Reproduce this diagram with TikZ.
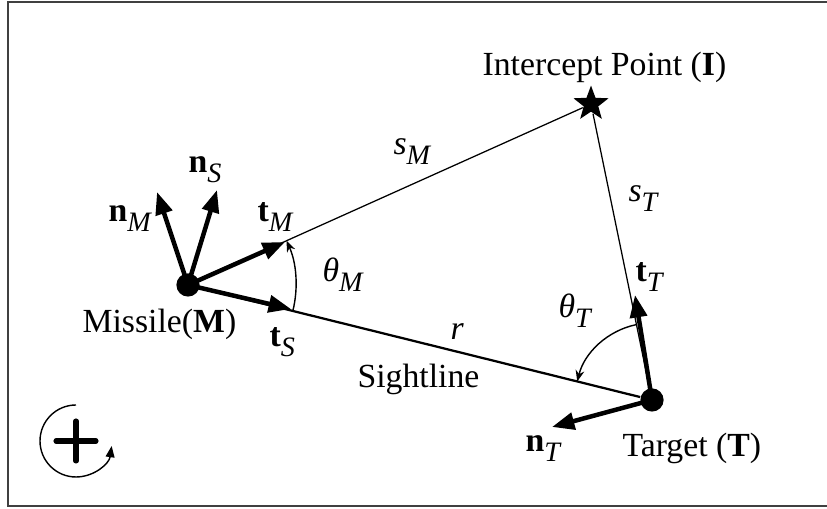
\documentclass[tikz,border=0pt]{standalone}
\usepackage{fontspec}
\setmainfont{Liberation Serif}
\usetikzlibrary{arrows.meta, shapes.geometric, calc}
\newcommand{\sbs}[1]{\raisebox{-3.5pt}{\fontsize{10}{12}\selectfont\itshape #1}}
\tikzset{
  vec/.style={-{Triangle[length=0.28cm, width=0.21cm]}, line width=1.6pt},
  ang/.style={-{Stealth[length=0.14cm, width=0.11cm]}, line width=0.5pt},
  lbl/.style={inner sep=0pt, anchor=base west, font=\fontsize{12}{14}\selectfont},
}

\begin{document}
\begin{tikzpicture}[x=0.0125cm, y=0.0125cm,
      dot/.style={circle, fill=black, minimum size=0.29cm, inner sep=0pt},
      ipt/.style={star, star points=5, star point ratio=2.4, fill=black,
                  minimum size=0.46cm, inner sep=0pt},
    ]
    \useasboundingbox (0,0) rectangle (827,509);
    \draw[black!75, line width=0.9pt] (8,507) rectangle (845,3);

    % ─── Engagement triangle ──────────────────────────────────────────
    \node[dot] (M) at (188,224) {};
    \node[dot] (T) at (652,109) {};
    \node[ipt] (I) at (591,405) {};
    \draw[line width=0.45pt] (M) -- (I) -- (T);
    \draw[line width=0.8pt] (M) -- (T);

    % Missile frame vectors
    \coordinate (tM) at (285,267);
    \coordinate (tS) at (291,200);
    \coordinate (nM) at (157,317);
    \coordinate (nS) at (217,319);
    \draw[vec] (M.center) -- (tM);
    \draw[vec] (M.center) -- (tS);
    \draw[vec] (M.center) -- (nM);
    \draw[vec] (M.center) -- (nS);

    % Target frame vectors
    \coordinate (tT) at (635,214);
    \coordinate (nT) at (552,82);
    \draw[vec] (T.center) -- (tT);
    \draw[vec] (T.center) -- (nT);

    % Angles
    \draw[ang] ([shift={(-13.9:108)}]M.center) arc[start angle=-13.9, end angle=24.2, radius=108];
    \draw[ang] ([shift={(101.6:77)}]T.center) arc[start angle=101.6, end angle=166.1, radius=77];

    % Positive sense of rotation
    \coordinate (rot) at (76,68);
    \draw[line width=0.5pt, -{Triangle[length=0.14cm, width=0.11cm]}]
      ([shift={(90:36)}]rot) arc[start angle=90, end angle=352, radius=36];
    \draw[line width=1.8pt, line cap=round] ($(rot)+(-20,0)$) -- ($(rot)+(20,0)$);
    \draw[line width=1.8pt, line cap=round] ($(rot)+(0,-20)$) -- ($(rot)+(0,20)$);

    % ─── Labels ───────────────────────────────────────────────────────
    \node[lbl] (lI)  at (482,433) {Intercept Point (\textbf{I})};
    \node[lbl] (lM)  at (82,176)  {Missile(\textbf{M})};
    \node[lbl] (lT)  at (622,52)  {Target (\textbf{T})};
    \node[lbl] (lsl) at (357,121) {Sightline};
    \node[lbl] (lr)  at (450,169) {\textit{r}};
    \node[lbl] (lsM) at (393,354) {\textit{s}\sbs{M}};
    \node[lbl] (lsT) at (628,307) {\textit{s}\sbs{T}};
    \node[lbl] (lnM) at (108,287) {\textbf{n}\sbs{M}};
    \node[lbl] (lnS) at (188,336) {\textbf{n}\sbs{S}};
    \node[lbl] (ltM) at (257,287) {\textbf{t}\sbs{M}};
    \node[lbl] (ltS) at (269,162) {\textbf{t}\sbs{S}};
    \node[lbl] (ltT) at (635,227) {\textbf{t}\sbs{T}};
    \node[lbl] (lnT) at (525,57)  {\textbf{n}\sbs{T}};
    \node[lbl] (lqM) at (322,227) {\textit{θ}\sbs{M}};
    \node[lbl] (lqT) at (558,191) {\textit{θ}\sbs{T}};

  \end{tikzpicture}
\end{document}
